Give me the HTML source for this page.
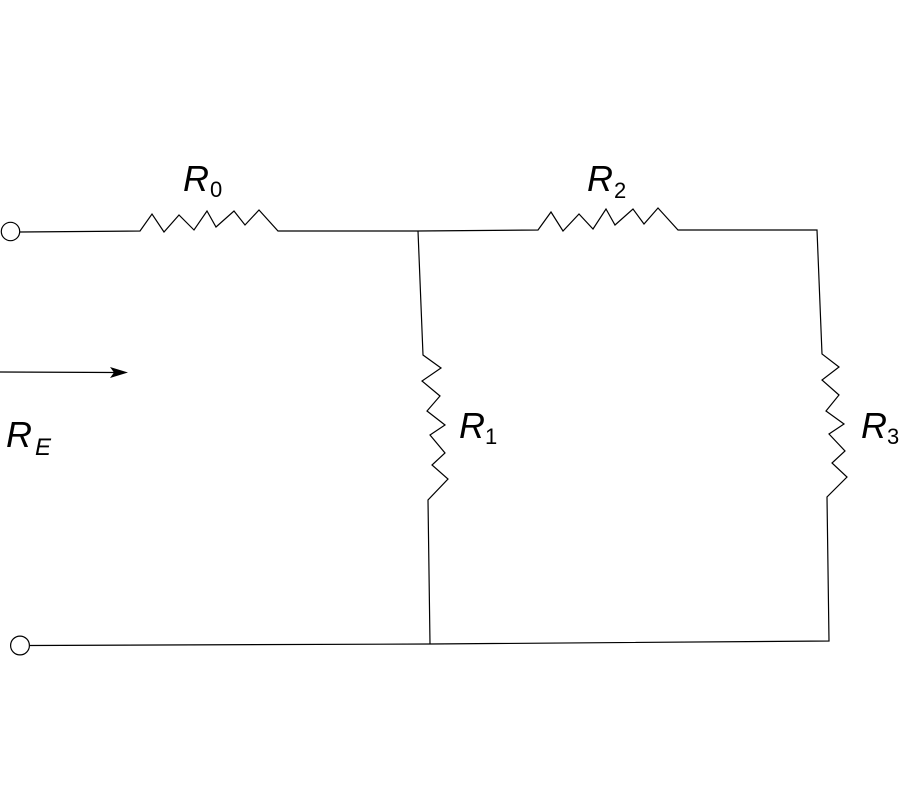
<!DOCTYPE html>
<html>
<head>
<meta charset="utf-8">
<style>
html,body{margin:0;padding:0;background:#fff}
svg{display:block}
text{font-family:"Liberation Sans",sans-serif;fill:#000}
.r{font-size:36px;font-style:italic}
.s{font-size:22px}
</style>
</head>
<body>
<svg width="900" height="800" viewBox="0 0 900 800" xmlns="http://www.w3.org/2000/svg">
<rect width="900" height="800" fill="#fff"/>
<g fill="none" stroke="#000" stroke-width="1.2" stroke-linejoin="miter">
<circle cx="10.5" cy="231.5" r="9.2"/>
<circle cx="20" cy="645.5" r="9.4"/>
<polyline points="20,232 140,231 152,214 164,232 179,215 194,230 207,211 216,227 234,211 245,225 259,210 278,231 418,231 538,230 551,212 563,231 579,214 593,229 606,209 615,225 633,209 644,224 658,208 678,230 817,230 822,354 839,367 822,380 839,395 826,411 844,424 829,434 845,451 832,463 847,477 827,497 829,641 430,644 30,645.5"/>
<polyline points="418,231 423,355 441,368 422,381 440,396 427,411 445,425 430,435 445,453 432,465 448,479 428,500 430,644"/>
<line x1="0" y1="372" x2="115" y2="372.5"/>
</g>
<polygon points="128,372.5 110,367 114,372.5 110,378" fill="#000"/>
<text class="r" x="183" y="191">R</text><text class="s" x="210" y="197">0</text>
<text class="r" x="587" y="191">R</text><text class="s" x="614" y="198">2</text>
<text class="r" x="459" y="438">R</text><text class="s" x="485" y="444">1</text>
<text class="r" x="861" y="438">R</text><text class="s" x="887" y="444">3</text>
<text class="r" x="6" y="447">R</text><text class="s" x="35" y="455" style="font-style:italic;font-size:24px">E</text>
</svg>
</body>
</html>
